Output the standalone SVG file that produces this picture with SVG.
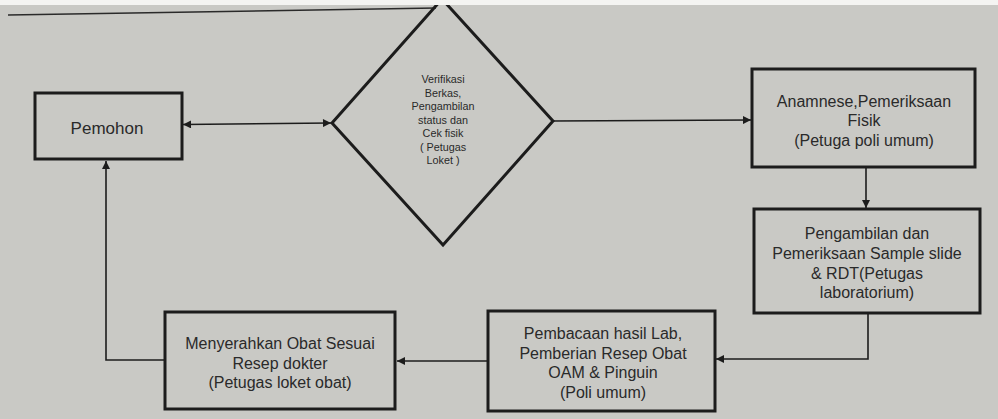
<svg xmlns="http://www.w3.org/2000/svg" width="998" height="419" viewBox="0 0 998 419">
  <style>
    .box { fill: none; stroke: #1c1c1c; stroke-width: 3; }
    .conn { fill: none; stroke: #1c1c1c; stroke-width: 1.6; }
    .lbl { font-family: "Liberation Sans", Arial, sans-serif; font-size: 16px; fill: #2a2a2a; text-anchor: middle; dominant-baseline: central; }
    .small { font-size: 10.8px; }
    .big { font-size: 17px; }
  </style>
  <defs>
    <marker id="arr" viewBox="0 0 10 10" refX="10" refY="5" markerWidth="9" markerHeight="8" markerUnits="userSpaceOnUse" orient="auto-start-reverse">
      <path d="M0,0 L10,5 L0,10 Z" fill="#1c1c1c"/>
    </marker>
  </defs>
  <rect x="0" y="0" width="998" height="419" fill="#c9c9c5"/>
  <line x1="8" y1="15" x2="436" y2="8" stroke="#2a2a2a" stroke-width="1.6"/>

  <g id="connectors">
    <line class="conn" x1="183" y1="124.5" x2="331" y2="123" marker-start="url(#arr)" marker-end="url(#arr)"/>
    <line class="conn" x1="553" y1="121" x2="751" y2="120" marker-end="url(#arr)"/>
    <line class="conn" x1="866" y1="168" x2="866" y2="208" marker-end="url(#arr)"/>
    <polyline class="conn" points="868,314 868,359 716,359" marker-end="url(#arr)"/>
    <line class="conn" x1="487" y1="361" x2="397" y2="361" marker-end="url(#arr)"/>
    <polyline class="conn" points="164,360 106,360 106,161" marker-end="url(#arr)"/>
  </g>

  <g id="pemohon">
    <rect class="box" x="35" y="93" width="147" height="66"/>
    <text class="lbl big" x="107" y="128">Pemohon</text>
  </g>

  <g id="verifikasi">
    <polygon class="box" points="442,-1 553,121 443,245 332,123"/>
    <text class="lbl small" x="443" y="79">Verifikasi</text>
    <text class="lbl small" x="443" y="92.5">Berkas,</text>
    <text class="lbl small" x="443" y="106">Pengambilan</text>
    <text class="lbl small" x="443" y="119.5">status dan</text>
    <text class="lbl small" x="443" y="133">Cek fisik</text>
    <text class="lbl small" x="443" y="146.5">( Petugas</text>
    <text class="lbl small" x="443" y="160">Loket )</text>
  </g>

  <g id="anamnese">
    <rect class="box" x="752" y="69" width="223" height="98"/>
    <text class="lbl" x="864" y="101">Anamnese,Pemeriksaan</text>
    <text class="lbl" x="864" y="120">Fisik</text>
    <text class="lbl" x="864" y="140">(Petuga poli umum)</text>
  </g>

  <g id="pengambilan">
    <rect class="box" x="754" y="209" width="226" height="104"/>
    <text class="lbl" x="867" y="233">Pengambilan dan</text>
    <text class="lbl" x="867" y="253">Pemeriksaan Sample slide</text>
    <text class="lbl" x="867" y="273">&amp; RDT(Petugas</text>
    <text class="lbl" x="867" y="292">laboratorium)</text>
  </g>

  <g id="pembacaan">
    <rect class="box" x="488" y="311" width="227" height="100"/>
    <text class="lbl" x="603" y="333">Pembacaan hasil Lab,</text>
    <text class="lbl" x="603" y="353">Pemberian Resep Obat</text>
    <text class="lbl" x="603" y="372">OAM &amp; Pinguin</text>
    <text class="lbl" x="603" y="392">(Poli umum)</text>
  </g>

  <g id="menyerahkan">
    <rect class="box" x="165" y="312" width="230" height="97"/>
    <text class="lbl" x="280" y="343">Menyerahkan Obat Sesuai</text>
    <text class="lbl" x="280" y="363">Resep dokter</text>
    <text class="lbl" x="280" y="382">(Petugas loket obat)</text>
  </g>

  <rect x="0" y="0" width="998" height="5" fill="#f4f4f2"/>
</svg>
